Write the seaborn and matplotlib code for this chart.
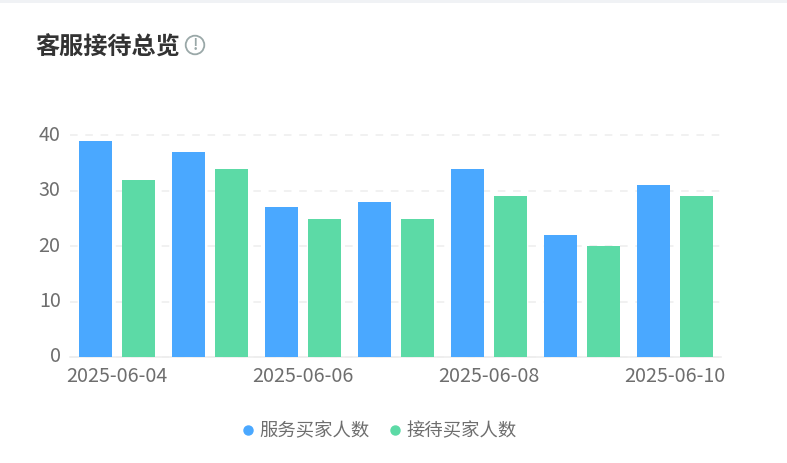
# Customer service overview chart
import pandas as pd
import seaborn as sns
import matplotlib.pyplot as plt
from matplotlib.lines import Line2D
from matplotlib.patches import Circle, Rectangle

dates = ["2025-06-04", "2025-06-05", "2025-06-06", "2025-06-07", "2025-06-08", "2025-06-09", "2025-06-10"]
served = [39, 37, 27, 28, 34, 22, 31]
received = [32, 34, 25, 25, 29, 20, 29]
y_ticks = [0, 10, 20, 30, 40]
shown_dates = ["2025-06-04", "", "2025-06-06", "", "2025-06-08", "", "2025-06-10"]
series_names = ["服务买家人数", "接待买家人数"]
series_colors = ["#4aa8ff", "#5cdaa6"]

sns.set_theme(style="white")
plt.rcParams["font.family"] = ["Noto Sans CJK SC", "DejaVu Sans"]

W, H = 787, 463
fig = plt.figure(figsize=(W / 100, H / 100), dpi=100)
ax = fig.add_axes([70.4 / W, 1 - 357 / H, 651 / W, 221.5 / H])

df = pd.DataFrame({
    "date": dates * 2,
    "value": served + received,
    "series": [series_names[0]] * 7 + [series_names[1]] * 7,
})
sns.barplot(data=df, x="date", y="value", hue="series", palette=series_colors,
            width=0.914, gap=0.224, saturation=1, linewidth=0, legend=False, ax=ax, zorder=3)

ax.set_xlim(-0.5, 6.5)
ax.set_ylim(0, 40)
ax.set_xlabel("")
ax.set_ylabel("")
ax.set_yticks(y_ticks)
ax.set_xticks(range(len(dates)))
ax.set_xticklabels(shown_dates)
ax.tick_params(axis="x", length=0, pad=6.5, labelsize=14.2, labelcolor="#6e6e6e")
ax.tick_params(axis="y", length=0, pad=7, labelsize=14.2, labelcolor="#6e6e6e")

# dashed grid and bottom baseline
ax.grid(axis="y", color="#eeeeee", linestyle=(0, (5, 5)), linewidth=1.1, zorder=0, clip_on=False)
ax.set_axisbelow(True)
for side in ["top", "right", "left"]:
    ax.spines[side].set_visible(False)
ax.spines["bottom"].set_color("#eeeeee")
ax.spines["bottom"].set_linewidth(1.2)
for label in ax.get_yticklabels():
    label.set_verticalalignment("center")

# page strip at the top
fig.add_artist(Rectangle((0, 1 - 3 / H), 1, 3 / H, transform=fig.transFigure,
                         facecolor="#f0f2f5", edgecolor="none"))

# title and info icon
fig.text(35.5 / W, 1 - 47.5 / H, "客服接待总览", fontsize=17.4, fontweight="bold",
         color="#333333", va="center", ha="left")
icon = Circle((195, H - 45), 9.3, transform=None, facecolor="white",
              edgecolor="#9aa8a8", linewidth=1.3)
fig.add_artist(icon)
fig.text(195 / W, 1 - 45 / H, "!", fontsize=10.5, fontweight="bold", color="#9aa8a8", va="center", ha="center")

handles = [Line2D([], [], linestyle="", marker="o", markersize=6.5, color=c) for c in series_colors]
fig.legend(handles, series_names, loc="center", bbox_to_anchor=(379.5 / W, 1 - 431 / H),
           ncol=2, frameon=False, fontsize=13.2, labelcolor="#6e6e6e",
           handlelength=0.6, handletextpad=0.35, columnspacing=1.05, borderpad=0)

fig.savefig("out.png", dpi=100)
